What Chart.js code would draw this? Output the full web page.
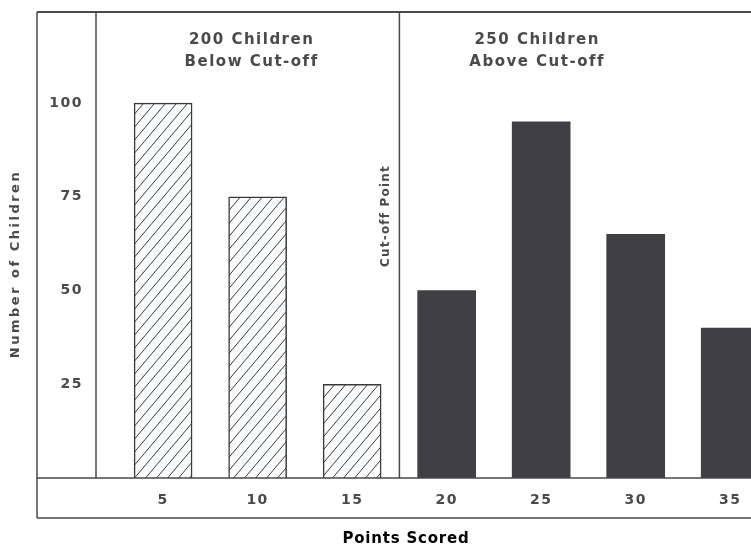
<!DOCTYPE html>
<html>
<head>
<meta charset="utf-8">
<script src="https://cdn.jsdelivr.net/npm/chart.js@4.4.0/dist/chart.umd.min.js"></script>
<style>
  html, body { margin: 0; padding: 0; background: #fff; }
  #wrap { width: 751px; height: 549px; }
</style>
</head>
<body>
<div id="wrap"><canvas id="chart"></canvas></div>
<script>
// points scored (x) and number of children (y)
const belowPoints = [5, 10, 15];
const belowCounts = [100, 75, 25];
const abovePoints = [20, 25, 30, 35];
const aboveCounts = [50, 95, 65, 40];
const xTicks = [5, 10, 15, 20, 25, 30, 35];
const yTicks = [25, 50, 75, 100];
const cutOff = 17.5;
const belowLabel = ['200 Children', 'Below Cut-off'];
const aboveLabel = ['250 Children', 'Above Cut-off'];

const ink = '#4a4a4a';
const font = '"DejaVu Sans", sans-serif';

function hatchPattern() {
  const c = document.createElement('canvas');
  c.width = 11; c.height = 13;
  const g = c.getContext('2d');
  g.fillStyle = '#fbfcfd';
  g.fillRect(0, 0, 11, 13);
  g.strokeStyle = '#3a3a3a';
  g.lineWidth = 1;
  g.beginPath();
  g.moveTo(-11, 13); g.lineTo(0, 0);
  g.moveTo(0, 13); g.lineTo(11, 0);
  g.moveTo(11, 13); g.lineTo(22, 0);
  g.stroke();
  return g.createPattern(c, 'repeat');
}

// frame, cut-off line and group labels
const framePlugin = {
  id: 'frame',
  beforeDraw(chart) {
    chart.ctx.letterSpacing = '1.5px';
  },
  afterDraw(chart) {
    const { ctx, chartArea: a, scales: { x } } = chart;
    const left = 37, bottom = 518;
    ctx.save();
    ctx.strokeStyle = ink;
    ctx.lineWidth = 1.5;
    ctx.beginPath();
    ctx.moveTo(left, a.top); ctx.lineTo(left, bottom);
    ctx.moveTo(left, bottom); ctx.lineTo(chart.width, bottom);
    ctx.moveTo(left, a.bottom); ctx.lineTo(chart.width, a.bottom);
    ctx.moveTo(a.left, a.top); ctx.lineTo(a.left, a.bottom);
    const cx = x.getPixelForValue(cutOff);
    ctx.moveTo(cx, a.top); ctx.lineTo(cx, a.bottom);
    ctx.stroke();
    ctx.lineWidth = 2.2;
    ctx.beginPath();
    ctx.moveTo(left, a.top); ctx.lineTo(chart.width, a.top);
    ctx.stroke();

    ctx.fillStyle = ink;
    ctx.font = 'bold 15px ' + font;
    ctx.letterSpacing = '1.5px';
    ctx.textAlign = 'center';
    ctx.textBaseline = 'middle';
    const bx = (x.getPixelForValue(belowPoints[0]) + x.getPixelForValue(belowPoints[2])) / 2 - 6;
    const ax = (x.getPixelForValue(abovePoints[0]) + x.getPixelForValue(abovePoints[2])) / 2 - 4;
    belowLabel.forEach((t, i) => ctx.fillText(t, bx, 40 + i * 22));
    aboveLabel.forEach((t, i) => ctx.fillText(t, ax, 40 + i * 22));

    ctx.font = 'bold 12px ' + font;
    ctx.letterSpacing = '1.2px';
    ctx.save();
    ctx.translate(cx - 14, 216);
    ctx.rotate(-Math.PI / 2);
    ctx.fillText('Cut-off Point', 0, 0);
    ctx.restore();

    ctx.font = 'bold 13px ' + font;
    ctx.letterSpacing = '2.5px';
    ctx.save();
    ctx.translate(16, 264);
    ctx.rotate(-Math.PI / 2);
    ctx.fillText('Number of Children', 0, 0);
    ctx.restore();

    ctx.fillStyle = '#000';
    ctx.font = 'bold 15px ' + font;
    ctx.letterSpacing = '0.8px';
    ctx.fillText('Points Scored', 406, 539);
    ctx.restore();
  }
};

new Chart(document.getElementById('chart'), {
  type: 'bar',
  data: {
    datasets: [
      {
        label: 'Below Cut-off',
        data: belowPoints.map((p, i) => ({ x: p, y: belowCounts[i] })),
        backgroundColor: hatchPattern(),
        borderColor: '#3a3a3a',
        borderWidth: 1.5,
        borderSkipped: 'bottom'
      },
      {
        label: 'Above Cut-off',
        data: abovePoints.map((p, i) => ({ x: p, y: aboveCounts[i] })),
        backgroundColor: '#3f3f44',
        borderWidth: 0
      }
    ]
  },
  options: {
    responsive: true,
    maintainAspectRatio: false,
    animation: false,
    layout: { padding: { top: 12, right: 0, left: 0, bottom: 0 } },
    datasets: { bar: { grouped: false, barThickness: 58 } },
    plugins: { legend: { display: false }, tooltip: { enabled: false } },
    scales: {
      x: {
        type: 'linear',
        offset: false,
        min: 1.45,
        max: 36.1,
        afterBuildTicks: s => { s.ticks = xTicks.map(v => ({ value: v })); },
        afterFit: s => { s.height = 71; s.paddingLeft = 0; s.paddingRight = 0; },
        grid: { display: false, drawTicks: false },
        border: { display: false },
        ticks: { color: ink, padding: 14, font: { family: font, size: 14, weight: 'bold' } }
      },
      y: {
        min: 0,
        max: 124.3,
        afterBuildTicks: s => { s.ticks = yTicks.map(v => ({ value: v })); },
        afterFit: s => { s.width = 96; s.paddingTop = 0; s.paddingBottom = 0; },
        grid: { display: false, drawTicks: false },
        border: { display: false },
        ticks: { color: ink, padding: 13, font: { family: font, size: 14, weight: 'bold' } }
      }
    }
  },
  plugins: [framePlugin]
});
</script>
</body>
</html>
